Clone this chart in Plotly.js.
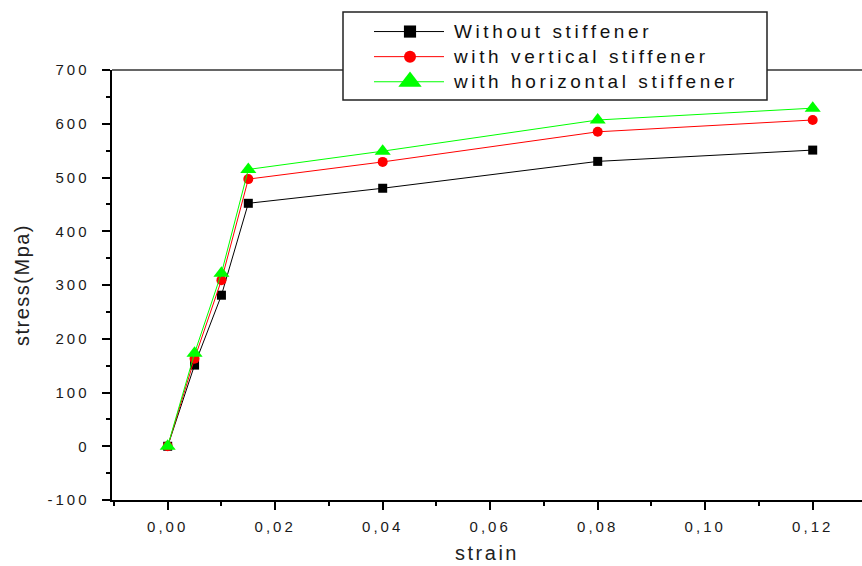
<!DOCTYPE html>
<html>
<head>
<meta charset="utf-8">
<script src="https://cdn.plot.ly/plotly-3.0.1.min.js"></script>
<style>
  html, body { margin: 0; padding: 0; background: #fff; }
  #chart { width: 862px; height: 566px; }
  .xtick text, .ytick text { letter-spacing: 3px; }
  .legendtext { letter-spacing: 3.6px; font-size: 19px !important; }
  .xtitle { letter-spacing: 2.5px; }
  .ytitle { letter-spacing: 1.5px; }
</style>
</head>
<body>
<div id="chart"></div>
<script>
// ---- data ----
const strain = [0, 0.005, 0.01, 0.015, 0.04, 0.08, 0.12];
const stressWithout = [0, 151, 281, 452, 480, 530, 551];
const stressVertical = [0, 163, 309, 497, 529, 585, 607];
const stressHorizontal = [0, 173, 322, 515, 549, 607, 629];
const seriesNames = ["Without stiffener", "with vertical stiffener", "with horizontal stiffener"];
const xTickVals = [0, 0.02, 0.04, 0.06, 0.08, 0.10, 0.12];
const xTickText = ["0,00", "0,02", "0,04", "0,06", "0,08", "0,10", "0,12"];
const yTickVals = [-100, 0, 100, 200, 300, 400, 500, 600, 700];
const yTickText = ["-100", "0", "100", "200", "300", "400", "500", "600", "700"];

const traces = [
  { x: strain, y: stressWithout, name: seriesNames[0], mode: "lines+markers",
    line: { color: "#000000", width: 1 },
    marker: { symbol: "square", size: 9, color: "#000000" } },
  { x: strain, y: stressVertical, name: seriesNames[1], mode: "lines+markers",
    line: { color: "#ff0000", width: 1 },
    marker: { symbol: "circle", size: 10, color: "#ff0000" } },
  { x: strain, y: stressHorizontal, name: seriesNames[2], mode: "lines+markers",
    line: { color: "#00ff00", width: 1 },
    marker: { symbol: "triangle-up", size: 14, color: "#00ff00" } }
];

const FAM = "Liberation Sans, Arial, sans-serif";
const tickFont = { family: FAM, size: 15, color: "#1a1a1a" };

// plot area in pixels: x 112..862, y 70..500
const PL = 112, PR = 862, PT = 70, PB = 500;
const px2paperX = (p) => (p - PL) / (PR - PL);
const px2paperY = (p) => (PB - p) / (PB - PT);

const layout = {
  width: 862, height: 566,
  margin: { l: PL, r: 862 - PR, t: PT, b: 566 - PB, pad: 0 },
  paper_bgcolor: "#ffffff", plot_bgcolor: "#ffffff",
  font: { family: FAM, color: "#222" },
  showlegend: true,
  legend: {
    x: px2paperX(343), y: px2paperY(14), xanchor: "left", yanchor: "top",
    borderwidth: 0, bgcolor: "rgba(0,0,0,0)",
    font: { family: FAM, size: 17, color: "#111" },
    itemwidth: 68, indentation: 33, tracegroupgap: 0
  },
  xaxis: {
    range: [-0.01036, 0.12917],
    tickvals: xTickVals, ticktext: xTickText,
    ticks: "outside", ticklen: 8, tickwidth: 2, tickcolor: "#000",
    minor: { dtick: 0.01, tick0: 0, ticks: "outside", ticklen: 4, tickwidth: 2, tickcolor: "#000" },
    showline: true, linecolor: "#000", linewidth: 2,
    showgrid: false, zeroline: false,
    tickfont: tickFont, ticklabelstandoff: 4,
    title: { text: "strain", font: { family: FAM, size: 20, color: "#222" }, standoff: 12 }
  },
  yaxis: {
    range: [-100, 700],
    tickvals: yTickVals, ticktext: yTickText,
    ticks: "outside", ticklen: 8, tickwidth: 2, tickcolor: "#000",
    minor: { dtick: 50, tick0: 0, ticks: "outside", ticklen: 4, tickwidth: 2, tickcolor: "#000" },
    showline: true, linecolor: "#000", linewidth: 2.5,
    showgrid: false, zeroline: false,
    tickfont: tickFont, ticklabelstandoff: 9,
    title: { text: "stress(Mpa)", font: { family: FAM, size: 20, color: "#222" }, standoff: 13 }
  },
  shapes: [
    { type: "line", xref: "paper", yref: "paper", x0: 0, x1: 1, y0: 1, y1: 1,
      line: { color: "#333", width: 1.5 }, layer: "below" },
    { type: "rect", xref: "paper", yref: "paper",
      x0: px2paperX(343), x1: px2paperX(767), y0: px2paperY(100), y1: px2paperY(12),
      line: { color: "#222", width: 1.5 }, fillcolor: "#ffffff", layer: "above" }
  ]
};

// legend symbol geometry in the reference (screen px)
const LEG_LINE_X0 = 374, LEG_LINE_X1 = 444, LEG_MARK_X = 410;
const LEG_MARK_SCALE = [1.35, 1.2, 1.45];

Plotly.newPlot("chart", traces, layout, { displayModeBar: false, staticPlot: true }).then((gd) => {
  const svgRect = gd.querySelector(".main-svg").getBoundingClientRect();
  const items = gd.querySelectorAll(".legend .traces");
  items.forEach((item, i) => {
    const lines = item.querySelector(".legendlines");
    const pts = item.querySelector(".legendpoints");
    if (lines) {
      const m = lines.getScreenCTM();
      const ox = m.e - svgRect.left;
      lines.querySelectorAll("path").forEach((p) => {
        p.setAttribute("d", "M" + (LEG_LINE_X0 - ox) + ",0h" + (LEG_LINE_X1 - LEG_LINE_X0));
      });
    }
    if (pts) {
      const m = pts.getScreenCTM();
      const ox = m.e - svgRect.left;
      pts.querySelectorAll("path").forEach((p) => {
        p.setAttribute("transform", "translate(" + (LEG_MARK_X - ox) + ",0) scale(" + LEG_MARK_SCALE[i] + ")");
      });
    }
  });
});
</script>
</body>
</html>
